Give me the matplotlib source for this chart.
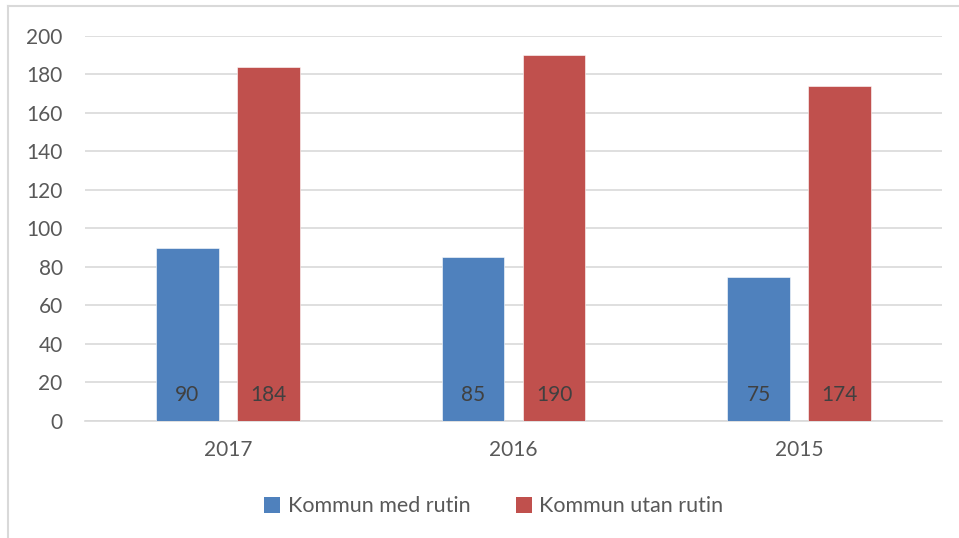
import matplotlib.pyplot as plt
import numpy as np
from matplotlib.patches import Patch
from matplotlib.lines import Line2D

years = ["2017", "2016", "2015"]
med_rutin = [90, 85, 75]
utan_rutin = [184, 190, 174]
y_ticks = [0, 20, 40, 60, 80, 100, 120, 140, 160, 180, 200]

blue = "#4F81BD"
red = "#C0504D"
txt = "#595959"
fs = 15

plt.rcParams['font.family'] = ['Lato', 'DejaVu Sans']

fig = plt.figure(figsize=(9.59, 5.38), dpi=100)
ax = fig.add_axes([0.0886, 0.2175, 0.8937, 0.7156])

x = np.arange(len(years))
w = 0.22
off = 0.142
ax.bar(x - off, med_rutin, w, color=blue, edgecolor="white", linewidth=0.4,
       label="Kommun med rutin", zorder=3)
ax.bar(x + off, utan_rutin, w, color=red, edgecolor="white", linewidth=0.4,
       label="Kommun utan rutin", zorder=3)

# value labels near the bottom of the bars
for xs, vals in [(x - off, med_rutin), (x + off, utan_rutin)]:
    for xi, v in zip(xs, vals):
        ax.text(xi, 13.5, str(v), ha="center", va="center", fontsize=fs,
                color="#404040", zorder=4)

ax.set_xlim(-0.5, 2.5)
ax.set_ylim(0, 200)
ax.set_yticks(y_ticks)
ax.set_xticks(x)
ax.set_xticklabels(years)
ax.grid(axis="y", color="#D9D9D9", linewidth=1.2, zorder=0)
for s in ["top", "right", "left"]:
    ax.spines[s].set_visible(False)
ax.spines["bottom"].set_color("#D9D9D9")
ax.spines["bottom"].set_linewidth(1.2)
ax.tick_params(axis="both", length=0, labelsize=fs, colors=txt)
ax.tick_params(axis="y", pad=16)
ax.tick_params(axis="x", pad=14)

handles = [Patch(facecolor=blue), Patch(facecolor=red)]
fig.legend(handles, ["Kommun med rutin", "Kommun utan rutin"], loc="center",
           bbox_to_anchor=(0.515, 0.059), ncol=2, frameon=False, fontsize=15.5,
           labelcolor=txt, handlelength=0.75, handleheight=0.75,
           handletextpad=0.35, columnspacing=2.1)

# outer chart frame (left and top edges visible)
fig.add_artist(Line2D([0.0083, 0.0083], [0, 0.989], color="#D9D9D9", lw=1.5,
                      transform=fig.transFigure))
fig.add_artist(Line2D([0.0083, 1.0], [0.989, 0.989], color="#D9D9D9", lw=1.5,
                      transform=fig.transFigure))

fig.savefig("out.png", dpi=100)
